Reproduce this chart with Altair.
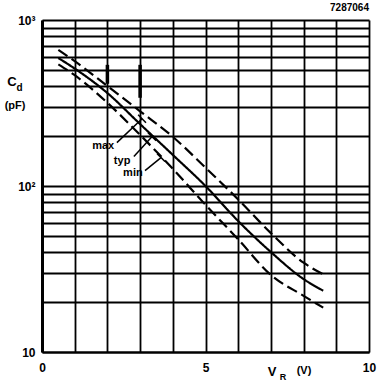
import altair as alt
import pandas as pd

# ---- data ----
V = [0.5, 1, 2, 3, 4, 5, 6, 7, 8, 8.6]
cd_max = [660, 565, 400, 282, 198, 129, 83, 52, 34.5, 29.4]
cd_typ = [590, 510, 363, 236, 154, 100, 61.5, 40, 27.5, 23.4]
cd_min = [540, 465, 317, 203, 127, 77, 47.7, 29.1, 21.8, 18.5]

x_grid = [0, 1, 2, 3, 4, 5, 6, 7, 8, 9, 10]
y_grid = [10, 20, 30, 40, 50, 60, 70, 80, 90,
          100, 200, 300, 400, 500, 600, 700, 800, 900, 1000]

label_text = ["max", "typ", "min"]
label_x = [1.87, 2.45, 2.78]
label_y = [175, 142, 119]

leader_x = [2.29, 2.81, 3.15]
leader_y = [182.5, 150.4, 123.9]
leader_x2 = [3.06, 3.36, 3.64]
leader_y2 = [254, 198.3, 148.3]

tick_x = [2.94, 3.24, 3.52]
tick_y = [268.8, 209.6, 156.7]
tick_x2 = [3.18, 3.49, 3.76]
tick_y2 = [240.6, 187.7, 140.3]

mark_x = [2, 3]
mark_y = [537, 537]
mark_y2 = [413, 340]

FONT = "Liberation Sans"

rows = []
for name, vals in (("max", cd_max), ("typ", cd_typ), ("min", cd_min)):
    for v, c in zip(V, vals):
        rows.append({"V": v, "C": c, "series": name})
curves_df = pd.DataFrame(rows)

xs = alt.Scale(domain=[0, 10], nice=False, zero=False)
ys = alt.Scale(type="log", domain=[10, 1000], nice=False)

x_axis = alt.Axis(
    values=x_grid, title=None, grid=True, gridColor="black", gridWidth=1.8,
    gridOpacity=1, ticks=False, domain=True, domainColor="black", domainWidth=2,
    labelExpr="datum.value == 0 ? '0' : datum.value == 5 ? '5' : datum.value == 10 ? '10' : ''",
    labelFont=FONT, labelFontSize=12, labelFontWeight="bold", labelColor="black",
    labelPadding=10, labelFlush=False, labelOverlap=False)
y_axis = alt.Axis(
    values=y_grid, title=None, grid=True, gridColor="black", gridWidth=1.8,
    gridOpacity=1, ticks=False, domain=True, domainColor="black", domainWidth=3,
    labelExpr="datum.value == 1000 ? '10³' : datum.value == 100 ? '10²' : datum.value == 10 ? '10' : ''",
    labelFont=FONT, labelFontSize=12, labelFontWeight="bold", labelColor="black",
    labelPadding=7, labelFlush=False, labelOverlap=False)

curves = alt.Chart(curves_df).mark_line(
    color="black", strokeWidth=2.2, interpolate="monotone"
).encode(
    x=alt.X("V:Q", scale=xs, axis=x_axis),
    y=alt.Y("C:Q", scale=ys, axis=y_axis),
    detail="series:N",
    strokeDash=alt.StrokeDash("series:N", scale=alt.Scale(
        domain=["max", "typ", "min"], range=[[11, 5], [1, 0], [11, 5]]), legend=None),
)

labels_df = pd.DataFrame({"t": label_text, "x": label_x, "y": label_y})
labels = alt.Chart(labels_df).mark_text(
    font=FONT, fontSize=11, fontWeight="bold", color="black"
).encode(x=alt.X("x:Q", scale=xs, axis=x_axis), y=alt.Y("y:Q", scale=ys, axis=y_axis), text="t:N")

leaders_df = pd.DataFrame({"x": leader_x + tick_x, "y": leader_y + tick_y,
                           "x2": leader_x2 + tick_x2, "y2": leader_y2 + tick_y2})
leaders = alt.Chart(leaders_df).mark_rule(color="black", strokeWidth=1.5).encode(
    x=alt.X("x:Q", scale=xs, axis=x_axis), y=alt.Y("y:Q", scale=ys, axis=y_axis),
    x2="x2:Q", y2="y2:Q")

marks_df = pd.DataFrame({"x": mark_x, "y": mark_y, "y2": mark_y2})
marks = alt.Chart(marks_df).mark_rule(color="black", strokeWidth=3.5).encode(
    x=alt.X("x:Q", scale=xs, axis=x_axis), y=alt.Y("y:Q", scale=ys, axis=y_axis), y2="y2:Q")


def txt(s, x, y, size=11, align="center", weight="bold"):
    return alt.Chart(alt.Data(values=[{}])).mark_text(
        text=s, fontSize=size, align=align, baseline="middle", font=FONT,
        fontWeight=weight, color="black"
    ).encode(x=alt.value(x), y=alt.value(y))


texts = [
    txt("C", -30, 62, size=13),
    txt("d", -22.5, 68, size=10),
    txt("(pF)", -27, 86, size=11),
    txt("V", 230, 352, size=13),
    txt("R", 241, 357, size=9),
    txt("(V)", 262, 351, size=11),
    txt("7287064", 327, -12, size=10, align="right"),
]

chart = alt.layer(curves, leaders, marks, labels, *texts).properties(
    width=327, height=332,
    autosize=alt.AutoSizeParams(type="none"),
    padding={"left": 42, "top": 20, "right": 8, "bottom": 34},
    background="white",
).configure_view(stroke=None)

chart.save("out.html", embed_options={"renderer": "svg", "actions": False})
